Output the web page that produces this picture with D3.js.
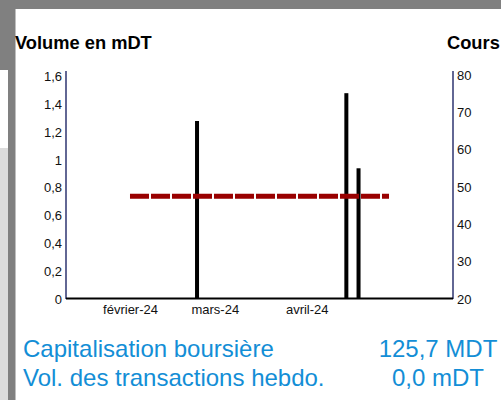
<!DOCTYPE html>
<html><head><meta charset="utf-8">
<script src="https://cdn.jsdelivr.net/npm/d3@7"></script>
<style>body{margin:0;background:#fff}svg{display:block}</style>
</head><body>
<svg id="c" width="501" height="400"></svg>
<script>
const volumeDates = ["2024-03-03","2024-04-21","2024-04-25"];
const volumeValues = [1.28, 1.48, 0.94];
const priceDates = ["2024-02-10","2024-02-17","2024-02-24","2024-03-02","2024-03-09","2024-03-16","2024-03-23","2024-03-30","2024-04-06","2024-04-13","2024-04-20","2024-04-27","2024-05-05"];
const priceValues = [47.5,47.5,47.5,47.5,47.5,47.5,47.5,47.5,47.5,47.5,47.5,47.5,47.5];
const monthTicks = ["2024-02-01","2024-03-01","2024-04-01"];
const monthLabels = ["février-24","mars-24","avril-24"];
const leftTicks = [0,0.2,0.4,0.6,0.8,1,1.2,1.4,1.6];
const rightTicks = [20,30,40,50,60,70,80];
const infoLabels = ["Capitalisation boursière","Vol. des transactions hebdo."];
const infoValues = ["125,7 MDT","0,0 mDT"];

const svg = d3.select("#c");
const font = "Liberation Sans, Arial, sans-serif";
// frame background
svg.append("rect").attr("x",0).attr("y",0).attr("width",501).attr("height",9).attr("fill","#808080");
svg.append("rect").attr("x",0).attr("y",0).attr("width",8).attr("height",70).attr("fill","#808080");
svg.append("rect").attr("x",0).attr("y",148).attr("width",8).attr("height",252).attr("fill","#dcdcdc");
svg.append("rect").attr("x",8).attr("y",0).attr("width",7.5).attr("height",400).attr("fill","#808080");

const parse = d3.timeParse("%Y-%m-%d");
const x = d3.scaleTime().domain([parse("2024-01-20"), parse("2024-05-26")]).range([66, 453]);
const yL = d3.scaleLinear().domain([0,1.6]).range([299,76.5]);
const yR = d3.scaleLinear().domain([20,80]).range([299,75]);

// titles
svg.append("text").attr("x",15).attr("y",49).attr("font-family",font).attr("font-weight","bold").attr("font-size",18.3).attr("fill","#000").text("Volume en mDT");
svg.append("text").attr("x",447).attr("y",49).attr("font-family",font).attr("font-weight","bold").attr("font-size",18.3).attr("fill","#000").text("Cours");

// bars
const bw = 4;
svg.append("g").selectAll("rect").data(volumeDates.map((d,i)=>({d:parse(d),v:volumeValues[i]})))
  .join("rect").attr("x",d=>x(d.d)-bw/2).attr("width",bw)
  .attr("y",d=>yL(d.v)).attr("height",d=>yL(0)-yL(d.v)).attr("fill","#000");

// price line
const line = d3.line().x(d=>x(d.d)).y(d=>yR(d.v));
svg.append("path").datum(priceDates.map((d,i)=>({d:parse(d),v:priceValues[i]})))
  .attr("d",line).attr("fill","none").attr("stroke","#990000").attr("stroke-width",5)
  .attr("stroke-dasharray","19,2");

// left axis
const gL = svg.append("g").attr("transform","translate(66,0)")
  .call(d3.axisLeft(yL).tickValues(leftTicks).tickSize(0).tickPadding(4).tickFormat(d=>String(d).replace(".",",")));
gL.select(".domain").remove();
gL.selectAll("text").attr("font-family",font).attr("font-size",13).attr("fill","#111");
svg.append("line").attr("x1",66).attr("x2",66).attr("y1",71).attr("y2",299).attr("stroke","#2e3470").attr("stroke-width",1.5);

// right axis
const gR = svg.append("g").attr("transform","translate(453,0)")
  .call(d3.axisRight(yR).tickValues(rightTicks).tickSize(0).tickPadding(4));
gR.select(".domain").remove();
gR.selectAll("text").attr("font-family",font).attr("font-size",13).attr("fill","#111");
svg.append("line").attr("x1",453).attr("x2",453).attr("y1",71).attr("y2",299).attr("stroke","#2e3470").attr("stroke-width",1.5);

// bottom axis
const gB = svg.append("g").attr("transform","translate(0,299)")
  .call(d3.axisBottom(x).tickValues(monthTicks.map(parse)).tickSize(0).tickPadding(6)
    .tickFormat((d,i)=>monthLabels[i]));
gB.select(".domain").remove();
gB.selectAll("text").attr("font-family",font).attr("font-size",13).attr("fill","#111").attr("text-anchor","start");
svg.append("line").attr("x1",66).attr("x2",453).attr("y1",298.5).attr("y2",298.5).attr("stroke","#000").attr("stroke-width",2);

// info
infoLabels.forEach((t,i)=>{
  svg.append("text").attr("x",23).attr("y",357+i*29).attr("font-family",font).attr("font-size",24).attr("fill","#138ed6").text(t);
  svg.append("text").attr("x",438).attr("y",357+i*29).attr("text-anchor","middle").attr("font-family",font).attr("font-size",24).attr("fill","#138ed6").text(infoValues[i]);
});
</script>
</body></html>
